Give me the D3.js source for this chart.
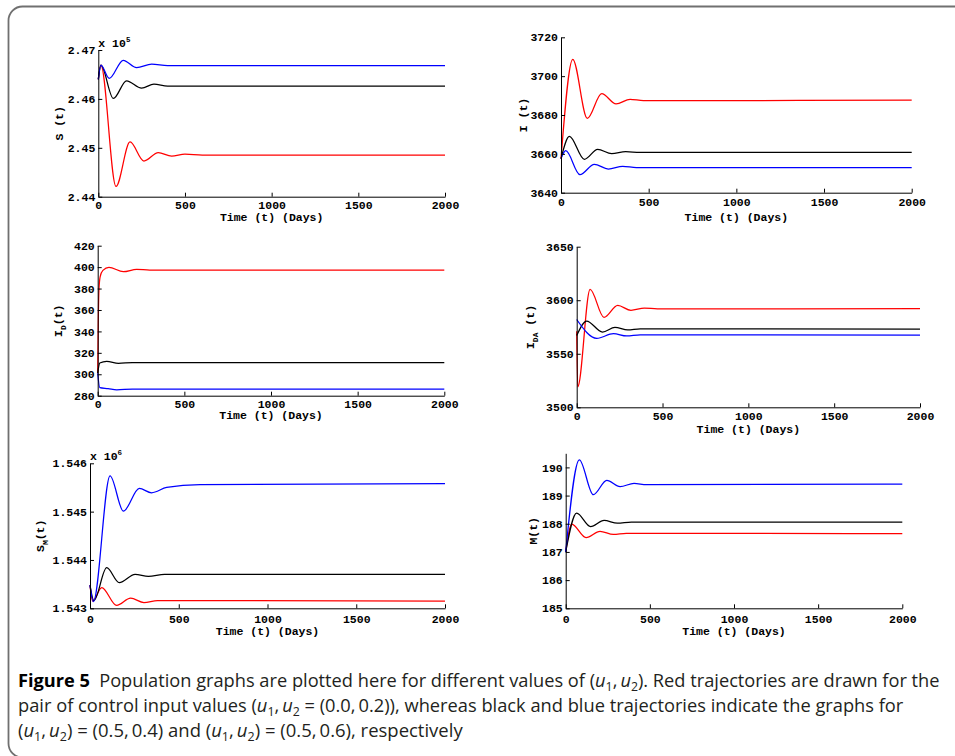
<!DOCTYPE html>
<html>
<head>
<meta charset="utf-8">
<script src="https://cdn.jsdelivr.net/npm/d3@7"></script>
<style>
  html, body { margin: 0; padding: 0; background: #fff; }
  svg { display: block; }
  .axis text, .mono {
    font-family: "Liberation Mono", "DejaVu Sans Mono", monospace;
    font-weight: bold;
    font-size: 11.5px;
    fill: #000;
  }
  .axis path, .axis line { stroke: #000; stroke-width: 1; }
  .caption { font-family: "Open Sans", "Noto Sans", sans-serif; font-size: 18.5px; fill: #231f20; }
</style>
</head>
<body>
<svg id="fig" width="955" height="756"></svg>
<script>
// ---- shared axis values -------------------------------------------------
const timeTicks = [0, 500, 1000, 1500, 2000];
const seriesColors = { red: "#ff0000", black: "#000000", blue: "#0000ff" };

// ---- S(t), in units of 10^5 ----------------------------------------------
const S_ticks = [2.44, 2.45, 2.46, 2.47];
const S_red   = [[0,2.4640],[15,2.4669],[102,2.4421],[183,2.4512],[263,2.4473],[346,2.4490],[423,2.4483],[500,2.4487],[600,2.4485],[2000,2.4485]];
const S_black = [[0,2.4640],[15,2.4669],[87,2.4601],[163,2.4637],[250,2.4622],[321,2.4630],[400,2.4626],[2000,2.4626]];
const S_blue  = [[0,2.4640],[15,2.4669],[63,2.4642],[144,2.4679],[221,2.4664],[308,2.4671],[400,2.4668],[2000,2.4668]];

// ---- I(t) -------------------------------------------------------------------
const I_ticks = [3640, 3660, 3680, 3700, 3720];
const I_red   = [[0,3657.5],[67,3708.7],[150,3678.3],[232,3691.0],[314,3685.7],[394,3688.1],[470,3687.4],[2000,3687.6]];
const I_black = [[0,3657.5],[48,3669.0],[133,3657.2],[209,3662.3],[289,3660.1],[369,3661.1],[450,3660.8],[2000,3660.8]];
const I_blue  = [[0,3657.5],[27,3661.6],[108,3649.3],[190,3654.6],[270,3652.2],[352,3653.6],[430,3652.9],[2000,3652.9]];

// ---- I_D(t) -----------------------------------------------------------------
const ID_ticks = [280, 300, 320, 340, 360, 380, 400, 420];
const ID_red   = [[0,301],[3,345],[7,378],[14,391],[30,397],[65,399.8],[148,395.7],[225,397.9],[300,397.3],[2000,397.3]];
const ID_black = [[0,301],[12,310.5],[52,312.0],[120,310.2],[200,310.9],[2000,310.8]];
const ID_blue  = [[0,301],[12,287.5],[60,286.6],[110,285.4],[200,286.2],[2000,286.2]];

// ---- I_DA(t) ----------------------------------------------------------------
const IDA_ticks = [3500, 3550, 3600, 3650];
const IDA_red   = [[0,3571],[6,3519],[78,3610.2],[159,3584.0],[239,3595.2],[316,3590.6],[394,3592.7],[470,3592.0],[2000,3592.1]];
const IDA_black = [[0,3567],[58,3580.6],[150,3570.3],[223,3574.7],[297,3572.2],[370,3573.3],[2000,3573.1]];
const IDA_blue  = [[0,3582],[117,3564.4],[214,3568.8],[291,3566.6],[370,3567.6],[2000,3567.5]];

// ---- S_M(t), in units of 10^6 -------------------------------------------------
const SM_ticks = [1.543, 1.544, 1.545, 1.546];
const SM_red   = [[0,1.54348],[15,1.54315],[66,1.54343],[150,1.54306],[229,1.54321],[304,1.54312],[380,1.54316],[2000,1.54315]];
const SM_black = [[0,1.54348],[22,1.54316],[94,1.54384],[165,1.54353],[254,1.54370],[329,1.54366],[420,1.54370],[2000,1.54370]];
const SM_blue  = [[0,1.54348],[19,1.54314],[113,1.54574],[188,1.54501],[278,1.54548],[347,1.54539],[432,1.54550],[620,1.54556],[2000,1.54558]];

// ---- M(t) -------------------------------------------------------------------
const M_ticks = [185, 186, 187, 188, 189, 190];
const M_red   = [[0,187.0],[36,187.99],[121,187.51],[204,187.73],[283,187.62],[360,187.66],[2000,187.65]];
const M_black = [[0,187.0],[65,188.38],[148,187.90],[228,188.12],[307,188.02],[390,188.06],[2000,188.06]];
const M_blue  = [[0,187.0],[81,190.27],[164,189.03],[244,189.54],[323,189.32],[406,189.43],[480,189.39],[2000,189.41]];

// ---- panel layout -----------------------------------------------------------
const panels = [
  { x0: 98.3, x1: 445,   yTop: 50,    yBot: 196.7, domain: [2.44, 2.47],  ticks: S_ticks,   fmt: ".2f",
    label: [{t:"S (t)"}], labelDx: 39.5, exponent: "5", tickPad: 4.5, titleDy: 24,
    series: { red: S_red, black: S_black, blue: S_blue } },
  { x0: 561,  x1: 911.7, yTop: 37.3,  yBot: 192.7, domain: [3640, 3720],  ticks: I_ticks,   fmt: "d",
    label: [{t:"I (t)"}], labelDx: 38.5, tickPad: 5, titleDy: 28,
    series: { red: I_red, black: I_black, blue: I_blue } },
  { x0: 97.7, x1: 444.3, yTop: 245.7, yBot: 395.7, domain: [280, 420],    ticks: ID_ticks,  fmt: "d",
    label: [{t:"I"},{t:"D",sub:true},{t:"(t)"}], labelDx: 40, tickPad: 4, titleDy: 23.5,
    series: { red: ID_red, black: ID_black, blue: ID_blue } },
  { x0: 576.7, x1: 920,  yTop: 246.7, yBot: 407.3, domain: [3500, 3650],  ticks: IDA_ticks, fmt: "d",
    label: [{t:"I"},{t:"DA",sub:true},{t:" (t)"}], labelDx: 47, tickPad: 5, titleDy: 25.5,
    series: { red: IDA_red, black: IDA_black, blue: IDA_blue } },
  { x0: 90,   x1: 445,   yTop: 463.3, yBot: 608.3, domain: [1.543, 1.546], ticks: SM_ticks, fmt: ".3f",
    label: [{t:"S"},{t:"M",sub:true},{t:"(t)"}], labelDx: 50, exponent: "6", tickPad: 7, titleDy: 27,
    series: { red: SM_red, black: SM_black, blue: SM_blue } },
  { x0: 565.7, x1: 902.3, yTop: 453.3, yBot: 608.3, domain: [185, 190.5], ticks: M_ticks,  fmt: "d",
    label: [{t:"M(t)"}], labelDx: 33, tickPad: 6.5, titleDy: 26.5,
    series: { red: M_red, black: M_black, blue: M_blue } }
];

const svg = d3.select("#fig");

// outer rounded frame
svg.append("rect")
  .attr("x", 8.5).attr("y", 6.5)
  .attr("width", 990).attr("height", 751)
  .attr("rx", 14).attr("ry", 14)
  .attr("fill", "none")
  .attr("stroke", "#707070")
  .attr("stroke-width", 1.8);

panels.forEach(p => {
  const x = d3.scaleLinear().domain([0, 2000]).range([p.x0, p.x1]);
  const y = d3.scaleLinear().domain(p.domain).range([p.yBot, p.yTop]);
  const g = svg.append("g");

  // trajectories: red first, blue on top
  const line = d3.line()
    .x(d => x(d[0]))
    .y(d => y(d[1]))
    .curve(d3.curveMonotoneX);
  ["red", "black", "blue"].forEach(k => {
    g.append("path")
      .datum(p.series[k])
      .attr("d", line)
      .attr("fill", "none")
      .attr("stroke", seriesColors[k])
      .attr("stroke-width", 1.25)
      .attr("stroke-linejoin", "round");
  });

  // axes with inward ticks
  g.append("g").attr("class", "axis")
    .attr("transform", `translate(0,${p.yBot})`)
    .call(d3.axisBottom(x).tickValues(timeTicks).tickFormat(d3.format("d"))
      .tickSizeInner(-4).tickSizeOuter(0).tickPadding(p.tickPad));
  g.append("g").attr("class", "axis")
    .attr("transform", `translate(${p.x0},0)`)
    .call(d3.axisLeft(y).tickValues(p.ticks).tickFormat(d3.format(p.fmt))
      .tickSizeInner(-4).tickSizeOuter(0).tickPadding(3));
  g.selectAll(".axis text").attr("font-family", null).attr("font-size", null);

  // x-axis title
  g.append("text").attr("class", "mono")
    .attr("x", (p.x0 + p.x1) / 2).attr("y", p.yBot + p.titleDy)
    .attr("text-anchor", "middle")
    .text("Time (t)  (Days)");

  // y-axis title (rotated, with optional subscript)
  const yl = g.append("text").attr("class", "mono")
    .attr("text-anchor", "middle")
    .attr("transform", `translate(${p.x0 - p.labelDx},${(p.yTop + p.yBot) / 2}) rotate(-90)`)
    .attr("dy", "0.35em");
  let shifted = false;
  p.label.forEach(seg => {
    const ts = yl.append("tspan").text(seg.t);
    if (seg.sub) { ts.attr("dy", 4).style("font-size", "8px"); shifted = true; }
    else if (shifted) { ts.attr("dy", -4); shifted = false; }
  });

  // scale exponent above the y axis
  if (p.exponent) {
    const ex = g.append("text").attr("class", "mono")
      .attr("x", p.x0).attr("y", p.yTop - 3)
      .text("x 10");
    ex.append("tspan").attr("dy", -5).style("font-size", "7.5px").text(p.exponent);
  }
});

// ---- figure caption ------------------------------------------------------------
const captionLines = [
  { y: 687, right: 940, segs: [
    {t:"Figure 5", b:true}, {t:"\u2002Population graphs are plotted here for different values of ("},
    {t:"u", i:true}, {t:"1", sub:true}, {t:",\u2009"}, {t:"u", i:true}, {t:"2", sub:true},
    {t:"). Red trajectories are drawn for the"} ] },
  { y: 712, right: 904, segs: [
    {t:"pair of control input values ("}, {t:"u", i:true}, {t:"1", sub:true}, {t:",\u2009"},
    {t:"u", i:true}, {t:"2", sub:true},
    {t:" = (0.0,\u20090.2)), whereas black and blue trajectories indicate the graphs for"} ] },
  { y: 737, right: 463, segs: [
    {t:"("}, {t:"u", i:true}, {t:"1", sub:true}, {t:",\u2009"}, {t:"u", i:true}, {t:"2", sub:true},
    {t:") = (0.5,\u20090.4) and ("}, {t:"u", i:true}, {t:"1", sub:true}, {t:",\u2009"},
    {t:"u", i:true}, {t:"2", sub:true}, {t:") = (0.5,\u20090.6), respectively"} ] }
];
const captionLeft = 18;

captionLines.forEach(ln => {
  const txt = svg.append("text").attr("class", "caption").attr("x", 0).attr("y", 0);
  let down = false;
  ln.segs.forEach(s => {
    const ts = txt.append("tspan").text(s.t);
    if (s.b) ts.style("font-weight", "bold").style("fill", "#000");
    if (s.i) ts.style("font-style", "italic");
    if (s.sub) { ts.attr("dy", 3.5).style("font-size", "12.5px"); down = true; }
    else if (down) { ts.attr("dy", -3.5); down = false; }
  });
  const w = txt.node().getComputedTextLength();
  const sx = (ln.right - captionLeft) / w;
  txt.attr("transform", `translate(${captionLeft},${ln.y}) scale(${sx},1)`);
});
</script>
</body>
</html>
